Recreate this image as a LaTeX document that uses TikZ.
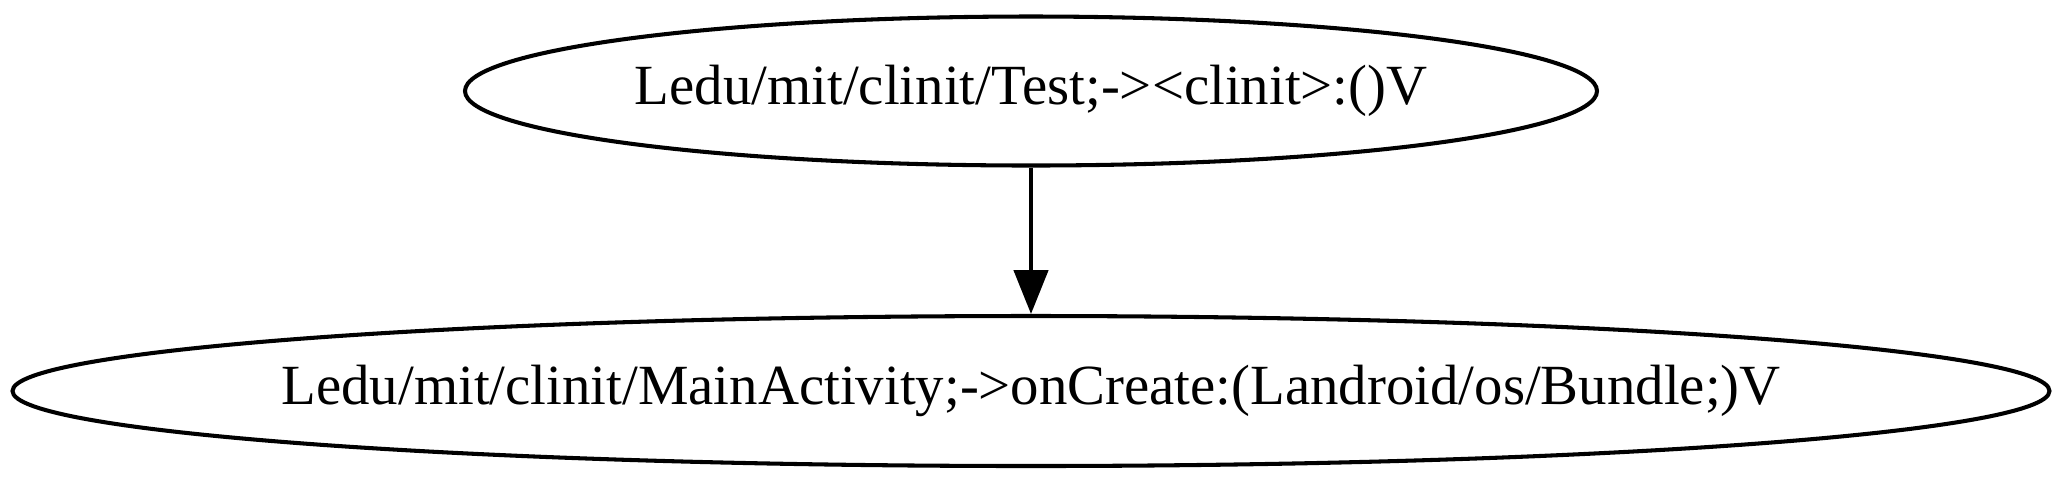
\documentclass[tikz,border=0pt]{standalone}
\usepackage{fontspec}
\setmainfont{Liberation Serif}
\usetikzlibrary{shapes.geometric,arrows.meta}

\tikzset{
  method/.style={draw, ellipse, line width=1pt, inner xsep=-60pt, inner ysep=0pt, font=\fontsize{14pt}{16pt}\selectfont},
  call/.style={-{Triangle[length=10.8pt,width=8.4pt]}, line width=1pt}
}

\begin{document}
\begin{tikzpicture}[x=0.2465pt, y=-0.2465pt]
    \useasboundingbox (0,0) rectangle (2064,483);

    % Methods
    \node[method, minimum width=1132*0.2465pt, minimum height=149*0.2465pt] (clinit) at (1031,91) {Ledu/mit/clinit/Test;->{}<clinit>:()V};
    \node[method, minimum width=2037*0.2465pt, minimum height=150*0.2465pt] (oncreate) at (1031,391) {Ledu/mit/clinit/MainActivity;->{}onCreate:(Landroid/os/Bundle;)V};

    % Call edge
    \draw[call] (clinit) -- (oncreate);
\end{tikzpicture}
\end{document}
